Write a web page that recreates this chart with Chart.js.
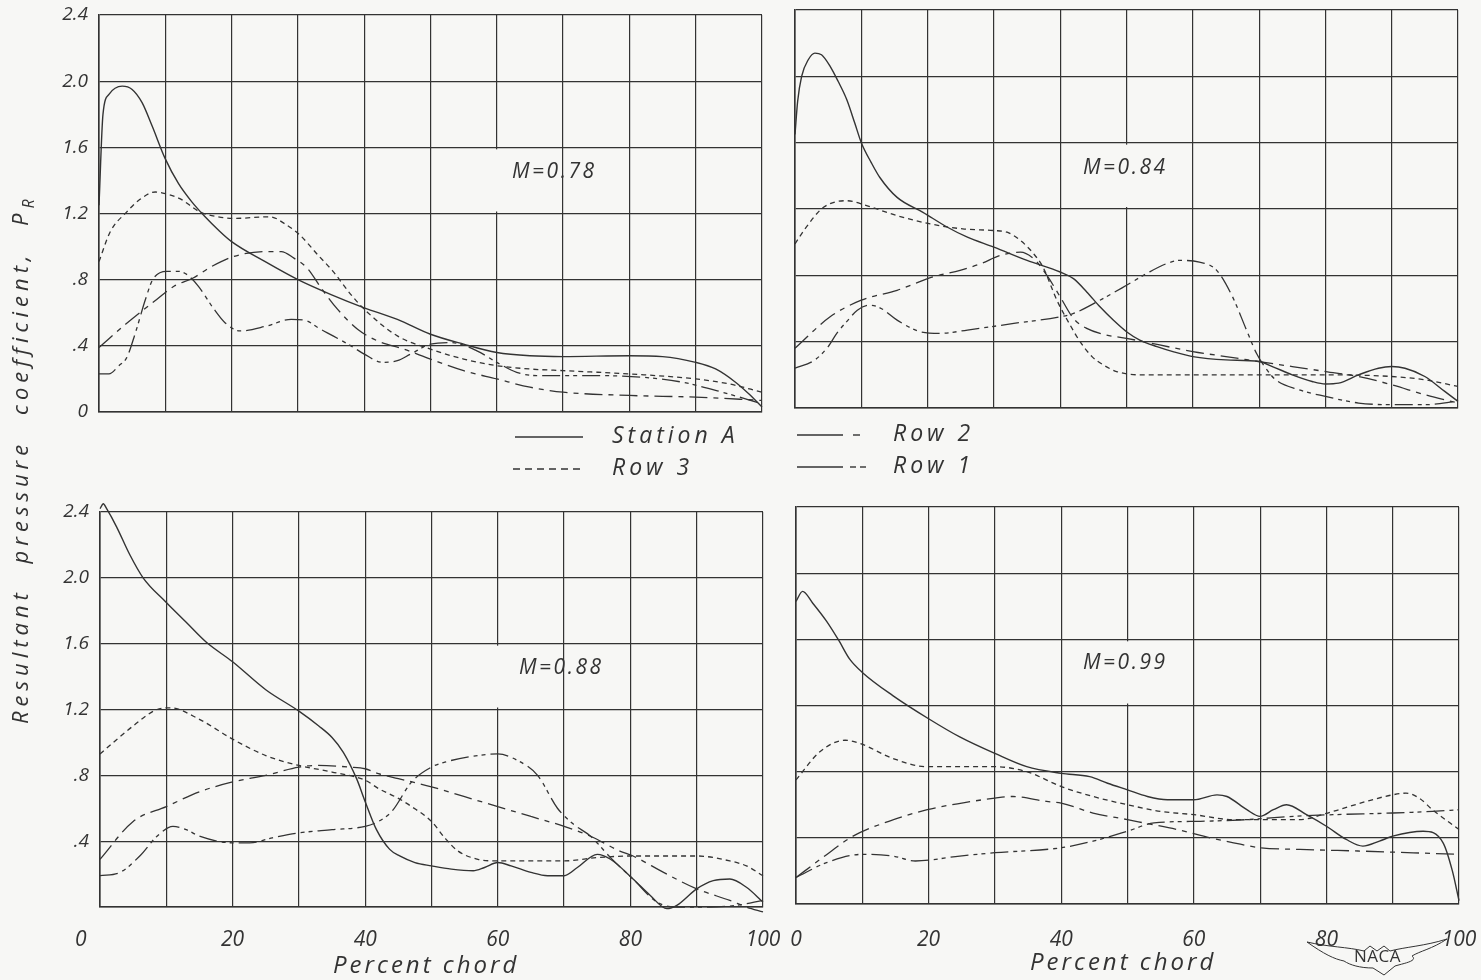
<!DOCTYPE html>
<html><head><meta charset="utf-8">
<script src="https://cdn.jsdelivr.net/npm/chart.js@4.4.1/dist/chart.umd.min.js"></script>
<style>
html,body{margin:0;padding:0;background:#f7f7f5;}
#wrap{position:relative;width:1481px;height:980px;overflow:hidden;background:#f7f7f5;font-family:'Open Sans','DejaVu Sans',sans-serif;font-style:italic;color:#333;}
canvas{position:absolute;left:0;top:0;}
.t{position:absolute;white-space:nowrap;font-weight:400;line-height:1;}
.m{font-size:21px;letter-spacing:2.5px;}
.leg{font-size:23px;letter-spacing:4px;}
.xt{font-size:24px;letter-spacing:3px;}
#ytitle{font-size:22px;letter-spacing:5px;word-spacing:14px;transform-origin:0 0;transform:rotate(-90deg);}
svg{position:absolute;left:0;top:0;}
</style></head><body>
<div id="wrap">
<canvas id="c0" width="1481" height="980"></canvas>
<canvas id="c1" width="1481" height="980"></canvas>
<canvas id="c2" width="1481" height="980"></canvas>
<canvas id="c3" width="1481" height="980"></canvas>
<svg width="1481" height="980">
 <g stroke="#333" stroke-width="1.4" fill="none">
  <line x1="515" y1="437" x2="583" y2="437"/>
  <line x1="513" y1="469" x2="583" y2="469" stroke-dasharray="7,5"/>
  <line x1="797" y1="435" x2="843" y2="435"/><line x1="853" y1="435" x2="860" y2="435"/>
  <line x1="797" y1="467" x2="843" y2="467"/><line x1="850" y1="467" x2="856" y2="467"/><line x1="860" y1="467" x2="866" y2="467"/>
  <path d="M1307 942 C1328 947 1348 947 1364 951 L1370 946 L1377 951 L1384 946 L1390 951 C1405 947 1425 946 1447 939 C1432 949 1420 951 1412 956 C1418 961 1405 963 1395 966 L1384 975 L1373 968 C1360 968 1350 965 1344 961 C1334 959 1324 954 1307 942 Z" stroke-width="1"/>
 </g>
</svg>
<div class="t m" style="left:512px;top:160px;">M=0.78</div>
<div class="t m" style="left:1083px;top:156px;">M=0.84</div>
<div class="t m" style="left:519px;top:656px;">M=0.88</div>
<div class="t m" style="left:1083px;top:651px;">M=0.99</div>
<div class="t leg" style="left:612px;top:423px;">Station A</div>
<div class="t leg" style="left:893px;top:421px;">Row 2</div>
<div class="t leg" style="left:612px;top:455px;">Row 3</div>
<div class="t leg" style="left:893px;top:453px;">Row 1</div>
<div class="t xt" style="left:333px;top:952px;">Percent chord</div>
<div class="t xt" style="left:1030px;top:949px;">Percent chord</div>
<div id="ytitle" class="t" style="left:8px;top:724px;">Resultant pressure coefficient, P<span style="font-size:16px;position:relative;top:6px;letter-spacing:0">R</span></div>
<div class="t" style="left:1354px;top:947px;font-size:17px;font-style:normal;font-weight:400;letter-spacing:0.5px;">NACA</div>
</div>
<script>
// ---------- DATA (percent chord, resultant pressure coefficient) ----------
const machLabels = ['M=0.78', 'M=0.84', 'M=0.88', 'M=0.99'];
const seriesNames = ['Station A', 'Row 3', 'Row 2', 'Row 1'];
const xTickLabels = ['0', '', '20', '', '40', '', '60', '', '80', '', '100'];
const yTickLabels = ['0', '.4', '.8', '1.2', '1.6', '2.0', '2.4'];

// M = 0.78
const m078_stationA = [[0,1.25],[0.6,1.8],[1.5,1.92],[3.5,1.97],[5,1.95],[6.5,1.87],[8,1.73],[10,1.53],[12,1.38],[14,1.27],[16,1.18],[18,1.1],[20,1.03],[25,0.91],[30,0.8],[35,0.71],[40,0.63],[45,0.56],[50,0.47],[55,0.41],[60,0.36],[65,0.34],[70,0.335],[80,0.34],[85,0.335],[90,0.3],[93,0.26],[96,0.18],[98,0.11],[100,0.03]];
const m078_row3 = [[0,0.91],[1.7,1.09],[4.2,1.21],[6,1.28],[8.5,1.33],[10,1.32],[12.2,1.29],[15.2,1.21],[18,1.18],[20.2,1.17],[25.8,1.18],[28.3,1.13],[30.3,1.07],[33,0.95],[35.3,0.85],[38,0.71],[40.3,0.61],[45,0.46],[50,0.38],[55,0.32],[60,0.28],[65,0.26],[70,0.25],[80,0.23],[90,0.2],[95,0.17],[100,0.12]];
const m078_row2 = [[0,0.39],[4,0.53],[8.7,0.68],[11.3,0.76],[14.2,0.81],[17,0.88],[20.3,0.94],[25,0.97],[27.5,0.97],[29.4,0.93],[31.4,0.87],[33.5,0.75],[36,0.62],[39,0.5],[42,0.43],[46,0.38],[50,0.32],[55,0.25],[60,0.2],[65,0.15],[70,0.12],[80,0.1],[90,0.09],[100,0.07]];
const m078_row1 = [[0,0.23],[1.5,0.23],[3,0.28],[4.2,0.33],[5.5,0.48],[7,0.68],[8.1,0.8],[10.2,0.85],[12,0.85],[13.3,0.83],[15,0.76],[17.2,0.63],[19,0.54],[21.3,0.49],[25.3,0.52],[29,0.56],[31.4,0.55],[33,0.51],[35.3,0.46],[38,0.4],[40,0.35],[42.8,0.3],[45,0.31],[47,0.35],[50,0.41],[53,0.42],[57,0.37],[60,0.3],[63,0.24],[66,0.22],[75,0.22],[82,0.21],[88,0.18],[94,0.12],[100,0.05]];

// M = 0.84
const m084_stationA = [[0,1.65],[0.4,1.85],[1,2.0],[2,2.1],[3,2.14],[4,2.13],[5.3,2.06],[6.5,1.97],[7.8,1.86],[9,1.72],[10,1.6],[11.5,1.48],[12.8,1.39],[15.4,1.27],[19.3,1.18],[23,1.09],[26,1.03],[30,0.97],[35,0.89],[40,0.82],[42,0.78],[44,0.7],[46,0.61],[48,0.53],[50,0.46],[52,0.41],[54.6,0.37],[57,0.34],[60,0.31],[65,0.29],[70,0.28],[72,0.25],[75,0.2],[78,0.16],[80,0.145],[82,0.15],[85,0.2],[88,0.24],[90,0.25],[92,0.24],[95,0.19],[98,0.1],[100,0.04]];
const m084_row3 = [[0,0.99],[1.5,1.08],[4.3,1.21],[7.8,1.25],[10.8,1.22],[15.4,1.16],[20.4,1.11],[25.3,1.08],[30,1.07],[32,1.06],[34,1.01],[36,0.93],[37.4,0.85],[39.5,0.65],[41.5,0.5],[43,0.4],[44.8,0.31],[46.5,0.26],[48.5,0.22],[52,0.2],[60,0.2],[70,0.2],[80,0.2],[90,0.19],[95,0.17],[100,0.13]];
const m084_row2 = [[0,0.36],[5.3,0.55],[10,0.65],[15.4,0.71],[20.8,0.79],[24.9,0.83],[28,0.87],[31,0.92],[34,0.94],[36,0.9],[38,0.8],[40,0.67],[42,0.54],[44,0.48],[47,0.44],[50,0.42],[55,0.38],[60,0.34],[65,0.31],[70,0.28],[75,0.25],[80,0.22],[85,0.19],[90,0.14],[95,0.08],[100,0.03]];
const m084_row1 = [[0,0.24],[3,0.29],[5,0.37],[6.3,0.45],[8,0.53],[9.4,0.59],[11.3,0.62],[13,0.6],[15.4,0.53],[18.9,0.46],[21.9,0.45],[26,0.47],[33,0.51],[40,0.55],[42,0.57],[46,0.65],[50,0.74],[53,0.81],[56,0.87],[58,0.89],[61,0.88],[63.6,0.83],[66,0.67],[68,0.48],[69.6,0.33],[71,0.24],[72.5,0.17],[76,0.11],[80,0.07],[85,0.03],[90,0.02],[95,0.02],[100,0.04]];

// M = 0.88
const m088_stationA = [[0,2.42],[0.5,2.45],[1,2.42],[2.5,2.31],[4.5,2.14],[6.5,2.0],[10,1.85],[13,1.73],[16,1.61],[20,1.49],[25,1.32],[30,1.19],[33,1.1],[35,1.03],[36.7,0.94],[38.7,0.78],[40,0.64],[41.7,0.47],[43.7,0.35],[45.2,0.31],[47.5,0.27],[50,0.25],[53,0.23],[56.3,0.22],[58,0.24],[60,0.27],[62,0.25],[65,0.21],[67.5,0.19],[70,0.19],[72,0.24],[75,0.32],[77,0.29],[80.4,0.17],[83,0.07],[85.5,-0.01],[87,0.01],[90,0.11],[92.5,0.16],[95,0.17],[97.5,0.12],[100,0.03]];
const m088_row3 = [[0,0.93],[5,1.1],[8.6,1.2],[10.6,1.21],[15,1.14],[20,1.02],[25,0.92],[30,0.86],[35,0.82],[40,0.77],[42,0.72],[45,0.66],[47,0.61],[50,0.52],[52,0.42],[54,0.34],[57,0.29],[60,0.28],[70,0.28],[75,0.3],[80,0.31],[90,0.31],[95,0.28],[97.5,0.25],[100,0.19]];
const m088_row2 = [[0,0.29],[5,0.52],[10,0.61],[15,0.7],[20,0.76],[25,0.8],[30,0.85],[32.7,0.86],[37.7,0.85],[40,0.84],[42,0.81],[45,0.78],[50,0.73],[55,0.67],[60,0.61],[65,0.55],[70,0.49],[74,0.43],[78.4,0.34],[80.4,0.31],[85,0.21],[90,0.11],[95,0.04],[97.5,0.0],[100,-0.03]];
const m088_row1 = [[0,0.19],[3,0.21],[6,0.31],[8.6,0.43],[11,0.49],[13,0.47],[15,0.43],[20,0.39],[22.6,0.39],[26,0.42],[30,0.45],[35,0.47],[40,0.49],[42,0.52],[44,0.58],[47,0.76],[50,0.85],[52,0.88],[57,0.92],[60,0.93],[63,0.89],[66,0.8],[69,0.6],[71.5,0.5],[74,0.43],[77,0.3],[80.4,0.17],[84,0.03],[87,0.0],[92,0.0],[96,0.01],[100,0.04]];

// M = 0.99
const m099_stationA = [[0,1.83],[1,1.89],[2.5,1.82],[4.6,1.71],[6.5,1.59],[8.1,1.48],[10,1.4],[14.6,1.26],[20,1.12],[24.7,1.01],[30,0.91],[34.8,0.83],[40,0.79],[44.3,0.77],[47,0.73],[50,0.69],[53,0.65],[56,0.63],[60,0.63],[63.5,0.66],[65,0.65],[68,0.57],[70,0.53],[72,0.57],[74,0.6],[77,0.54],[80,0.47],[83,0.39],[85.5,0.35],[88,0.38],[90,0.41],[94.6,0.44],[97.6,0.37],[99,0.2],[100,0.02]];
const m099_row3 = [[0,0.75],[3.6,0.92],[7.4,0.99],[9.7,0.97],[14.6,0.88],[19.8,0.83],[30,0.83],[34.8,0.8],[40,0.71],[44.8,0.65],[50,0.6],[55,0.56],[60,0.54],[66,0.51],[75.8,0.51],[81,0.56],[86,0.62],[90,0.66],[92,0.67],[94,0.64],[96,0.57],[100,0.45]];
const m099_row2 = [[0,0.16],[4,0.28],[8.6,0.41],[14,0.5],[19.8,0.57],[25,0.61],[30,0.64],[32.7,0.65],[37.8,0.62],[40,0.61],[44.8,0.55],[50,0.51],[52.5,0.49],[57.5,0.45],[62.5,0.4],[66,0.37],[70,0.34],[76,0.33],[85,0.32],[100,0.3]];
const m099_row1 = [[0,0.16],[4.6,0.25],[10,0.3],[14.6,0.29],[18,0.26],[24.7,0.29],[30,0.31],[40,0.34],[44.8,0.38],[50,0.44],[54,0.49],[61,0.5],[68,0.51],[75,0.53],[81,0.54],[90,0.55],[96,0.56],[100,0.57]];

// ---------- STYLE / LAYOUT ----------
const INK = '#333333';
const BG = '#f7f7f5';
const dashes = [[], [5, 4], [18, 6, 5, 6], [18, 5, 4, 4, 4, 5]];
const X_BOX = 60;
const panels = [
  {id:'c0', area:{left:99, top:15, right:762, bottom:412}, series:[m078_stationA,m078_row3,m078_row2,m078_row1], yLab:true, xLab:false, yZero:true, gapX:60},
  {id:'c1', area:{left:795, top:10, right:1458, bottom:408}, series:[m084_stationA,m084_row3,m084_row2,m084_row1], yLab:false, xLab:false, gapX:50},
  {id:'c2', area:{left:100, top:512, right:763, bottom:907}, series:[m088_stationA,m088_row3,m088_row2,m088_row1], yLab:true, xLab:true, yZero:false, gapX:60, shiftZero:true, xPad:20},
  {id:'c3', area:{left:796, top:507, right:1459, bottom:904}, series:[m099_stationA,m099_row3,m099_row2,m099_row1], yLab:false, xLab:true, gapX:50, xPad:23}
];

const gapPlugin = {
  id: 'labelGap',
  beforeDatasetsDraw(chart, args, opts) {
    const xs = chart.scales.x, ys = chart.scales.y, ctx = chart.ctx;
    const x = xs.getPixelForValue(opts.x);
    ctx.save();
    ctx.strokeStyle = BG; ctx.lineWidth = 4;
    ctx.beginPath();
    ctx.moveTo(x, ys.getPixelForValue(1.6) + 2);
    ctx.lineTo(x, ys.getPixelForValue(1.2) - 2);
    ctx.stroke();
    ctx.restore();
  }
};

const fontFam = "'Open Sans','DejaVu Sans',sans-serif";

panels.forEach(p => {
  const a = p.area;
  const yW = p.yLab ? a.left : 0;
  const xH = p.xLab ? X_BOX : 0;
  new Chart(document.getElementById(p.id), {
    type: 'line',
    data: {
      datasets: p.series.map((s, i) => ({
        label: seriesNames[i],
        data: s.map(pt => ({x: pt[0], y: pt[1]})),
        borderColor: INK,
        borderWidth: i === 0 ? 1.4 : 1.3,
        borderDash: dashes[i],
        pointRadius: 0,
        fill: false,
        cubicInterpolationMode: 'monotone',
        clip: false
      }))
    },
    options: {
      responsive: false,
      devicePixelRatio: 1,
      animation: false,
      events: [],
      layout: {padding: {left: a.left - yW, top: a.top, right: 1481 - a.right, bottom: 980 - a.bottom - xH}},
      plugins: {legend: {display: false}, tooltip: {enabled: false}, labelGap: {x: p.gapX}},
      scales: {
        x: {
          type: 'linear', min: 0, max: 100,
          afterFit: s => { s.height = xH; s.paddingLeft = 0; s.paddingRight = 0; s.paddingTop = 0; s.paddingBottom = 0; },
          grid: {color: INK, lineWidth: 1.2, drawTicks: false},
          border: {color: INK, width: 1.6},
          ticks: {
            display: p.xLab, stepSize: 10, autoSkip: false, maxRotation: 0, minRotation: 0, padding: p.xPad || 20,
            color: '#333', font: {family: fontFam, style: 'italic', weight: 400, size: 21},
            callback: v => {
              const lab = xTickLabels[Math.round(v / 10)];
              return (p.shiftZero && v === 0) ? lab + '\u00a0\u00a0\u00a0\u00a0\u00a0\u00a0\u00a0' : lab;
            }
          }
        },
        y: {
          type: 'linear', min: 0, max: 2.4,
          afterFit: s => { s.width = yW; s.paddingLeft = 0; s.paddingRight = 0; s.paddingTop = 0; s.paddingBottom = 0; },
          grid: {color: INK, lineWidth: 1.2, drawTicks: false},
          border: {color: INK, width: 1.6},
          ticks: {
            display: p.yLab, stepSize: 0.4, autoSkip: false, padding: 11,
            color: '#333', font: {family: fontFam, style: 'italic', weight: 400, size: 19},
            callback: v => {
              const i = Math.round(v / 0.4);
              if (i === 0 && !p.yZero) return '';
              return yTickLabels[i];
            }
          }
        }
      }
    },
    plugins: [gapPlugin]
  });
});
</script>
</body></html>
